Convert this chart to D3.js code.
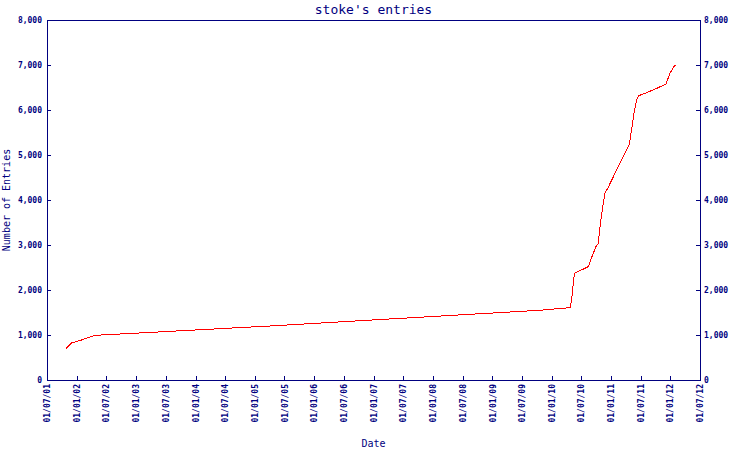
<!DOCTYPE html>
<html><head><meta charset="utf-8">
<script src="https://cdn.jsdelivr.net/npm/d3@7"></script>
<style>body{margin:0;background:#fff}svg{display:block}</style>
</head><body>
<script>
const title = "stoke's entries";
const xLabel = "Date";
const yLabel = "Number of Entries";
const dates = ["2001-10-26","2001-11-13","2001-12-02","2001-12-26","2002-02-08","2002-03-10","2002-04-03","2002-05-29","2003-07-28","2005-04-03","2006-12-09","2008-08-16","2009-10-20","2010-03-05","2010-04-25","2010-05-05","2010-05-20","2010-08-14","2010-08-28","2010-09-30","2010-10-14","2010-10-25","2010-11-10","2010-11-24","2010-12-11","2010-12-31","2011-02-14","2011-03-27","2011-04-23","2011-05-02","2011-05-22","2011-06-07","2011-06-20","2011-08-08","2011-10-09","2011-12-05","2011-12-29","2012-01-19","2012-02-02"];
const entries = [700,770,830,850,900,940,975,1000,1081,1200,1330,1460,1549,1593,1607,1852,2370,2519,2667,2963,3037,3407,3852,4148,4259,4407,4741,5037,5244,5444,5926,6222,6319,6385,6481,6578,6815,6948,7000];
const xTicks = ["2001-07-01","2002-01-01","2002-07-01","2003-01-01","2003-07-01","2004-01-01","2004-07-01","2005-01-01","2005-07-01","2006-01-01","2006-07-01","2007-01-01","2007-07-01","2008-01-01","2008-07-01","2009-01-01","2009-07-01","2010-01-01","2010-07-01","2011-01-01","2011-07-01","2012-01-01","2012-07-01"];
const yTicks = [0,1000,2000,3000,4000,5000,6000,7000,8000];

const W=750,H=450, L=47, R=700, T=20, B=380;
const navy="#000080";
const parse=d3.timeParse("%Y-%m-%d");
const data=dates.map((d,i)=>({d:parse(d),v:entries[i]}));
const svg=d3.select("body").append("svg").attr("width",W).attr("height",H);
const x=d3.scaleTime().domain([parse(xTicks[0]),parse(xTicks[xTicks.length-1])]).range([L,R]);
const y=d3.scaleLinear().domain([0,8000]).range([B,T]);
const font="'DejaVu Sans Mono', monospace";
const fmt=d3.format(",");

function style(g){
  g.select(".domain").remove();
  g.selectAll(".tick line").attr("stroke",navy).attr("stroke-width",1).attr("shape-rendering","crispEdges");
  g.selectAll(".tick text").attr("fill",navy).style("font-family",font).style("font-size","8px").style("font-weight","bold");
}
svg.append("g").attr("transform",`translate(${L},0)`)
 .call(d3.axisLeft(y).tickValues(yTicks).tickFormat(fmt).tickSizeInner(-4).tickSizeOuter(0).tickPadding(5)).call(style);
svg.append("g").attr("transform",`translate(${R},0)`)
 .call(d3.axisRight(y).tickValues(yTicks).tickFormat(fmt).tickSizeInner(-4).tickSizeOuter(0).tickPadding(4)).call(style);
const xa=svg.append("g").attr("transform",`translate(0,${B})`)
 .call(d3.axisBottom(x).tickValues(xTicks.map(parse)).tickFormat(d3.timeFormat("%d/%m/%y")).tickSizeInner(-4).tickSizeOuter(0)).call(style);
xa.selectAll(".tick text").attr("transform","rotate(-90)").attr("text-anchor","end").attr("x",-4).attr("y",0).attr("dy","0.32em");

svg.append("rect").attr("x",L+0.5).attr("y",T+0.5).attr("width",R-L).attr("height",B-T)
 .attr("fill","none").attr("stroke",navy).attr("stroke-width",1).attr("shape-rendering","crispEdges");

svg.append("path").datum(data).attr("fill","none").attr("stroke","#ff0000").attr("stroke-width",1)
 .attr("shape-rendering","crispEdges")
 .attr("d",d3.line().x(d=>x(d.d)).y(d=>y(d.v)));

svg.append("text").attr("x",(L+R)/2).attr("y",14).attr("text-anchor","middle").attr("fill",navy)
 .style("font-family",font).style("font-size","13px").text(title);
svg.append("text").attr("x",(L+R)/2).attr("y",447).attr("text-anchor","middle").attr("fill",navy)
 .style("font-family",font).style("font-size","10px").text(xLabel);
svg.append("text").attr("transform",`translate(10,${(T+B)/2}) rotate(-90)`).attr("text-anchor","middle").attr("fill",navy)
 .style("font-family",font).style("font-size","10px").text(yLabel);
</script>
</body></html>
